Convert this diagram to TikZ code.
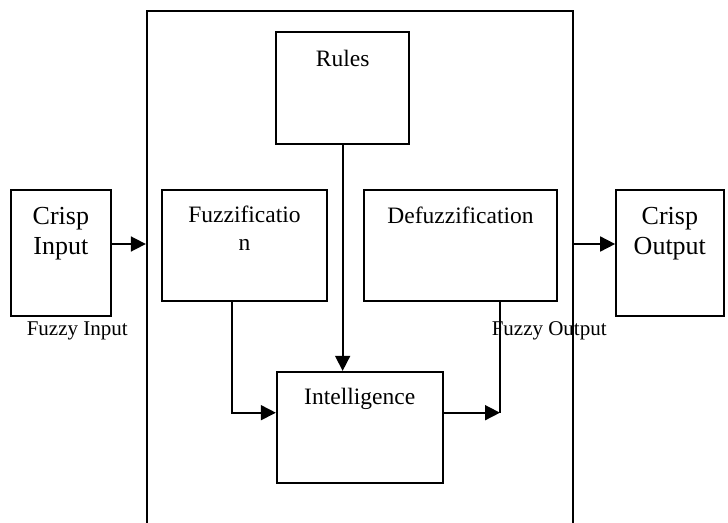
\documentclass[tikz,border=0pt]{standalone}
\usepackage{fontspec}
\setmainfont{Liberation Serif}
\usetikzlibrary{positioning, calc, arrows.meta}
\tikzset{
  >={Triangle[length=15pt, width=15pt]},
  block/.style={
    draw=black, line width=1.7pt, rectangle, inner sep=0pt
  },
  crisptext/.style={
    anchor=north, inner sep=0pt, align=center,
    font=\fontsize{26}{30}\selectfont
  },
  blocktext/.style={
    anchor=north, inner sep=0pt, align=center,
    font=\fontsize{23.5}{28}\selectfont
  },
  tag/.style={
    anchor=base, inner sep=0pt, font=\fontsize{21}{24}\selectfont
  },
  wire/.style={
    line width=1.7pt, draw=black
  },
  flow/.style={
    line width=1.7pt, draw=black, ->
  },
}
\begin{document}
\begin{tikzpicture}[x=1pt, y=-1pt]
\useasboundingbox (0,0) rectangle (728,522);

% fuzzy system frame (runs past the lower edge)
\node[block, minimum width=426.6pt, minimum height=529pt] (engine) at (360, 275.5) {};

\node[block, minimum width=100.3pt, minimum height=125.7pt,
      label={[crisptext, yshift=-17.5pt]north:{Crisp\\Input}}] (crispin) at (60.85, 252.85) {};
\node[block, minimum width=107.7pt, minimum height=125.7pt,
      label={[crisptext, yshift=-17.5pt]north:{Crisp\\Output}}] (crispout) at (669.85, 252.85) {};

\node[block, minimum width=133.3pt, minimum height=111.7pt,
      label={[blocktext, yshift=-19pt]north:Rules}] (rules) at (342.65, 88.15) {};
\node[block, minimum width=165.6pt, minimum height=110.7pt,
      label={[blocktext, yshift=-16.5pt]north:{Fuzzificatio\\n}}] (fuzz) at (244.5, 245.35) {};
\node[block, minimum width=192.4pt, minimum height=110.7pt,
      label={[blocktext, yshift=-17.5pt]north:Defuzzification}] (defuz) at (460.5, 245.35) {};
\node[block, minimum width=166pt, minimum height=111.6pt,
      label={[blocktext, yshift=-17pt]north:Intelligence}] (intel) at (359.7, 427.5) {};

\node[tag] (fzin)  at (77.2, 335.5)  {Fuzzy Input};
\node[tag] (fzout) at (549.2, 335.5) {Fuzzy Output};

% crisp values in and out of the frame
\draw[flow] ([yshift=8.85pt]crispin.east) coordinate (cin) -- (cin -| engine.west);
\draw[flow] (cin -| engine.east) -- (cin -| crispout.west);

% inner connections
\draw[flow] (rules.south) -- (rules.south |- intel.north);
\draw[flow] ([xshift=-12.8pt]fuzz.south) |- ([yshift=14.8pt]intel.west);
\coordinate (dz) at ([xshift=39.5pt]defuz.south);
\draw[flow] ([yshift=14.8pt]intel.east) coordinate (iout) -- (iout -| dz);
\draw[wire] (dz) -- (iout -| dz);

\end{tikzpicture}
\end{document}
